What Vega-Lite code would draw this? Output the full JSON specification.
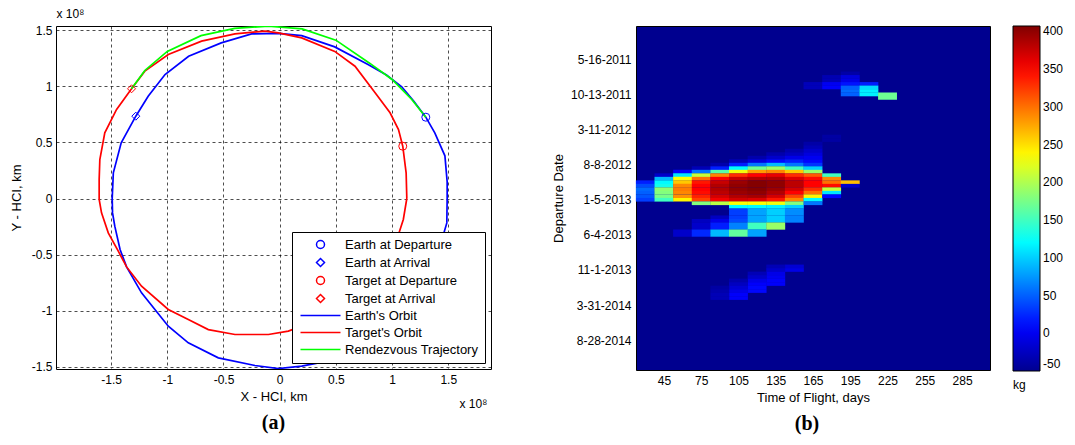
{
  "$schema": "https://vega.github.io/schema/vega-lite/v6.json",
  "background": "white",
  "padding": {"left": 9, "top": 6, "right": 5, "bottom": 5},
  "config": {
    "font": "Liberation Sans",
    "view": {"stroke": "black", "strokeWidth": 1},
    "axis": {
      "labelFont": "Liberation Sans", "labelFontSize": 12, "labelColor": "black",
      "titleFont": "Liberation Sans", "titleFontSize": 13, "titleFontWeight": "normal", "titleColor": "black",
      "domain": false, "ticks": false,
      "gridColor": "black", "gridOpacity": 1, "gridDash": [3, 3], "gridWidth": 0.7
    },
    "legend": {
      "labelFont": "Liberation Sans", "labelFontSize": 12, "labelColor": "black",
      "titleFont": "Liberation Sans", "titleFontSize": 12, "titleFontWeight": "normal", "titleColor": "black"
    },
    "title": {"font": "Liberation Serif", "fontSize": 20, "fontWeight": "bold", "color": "black"}
  },
  "datasets": {
    "orbits": [
      {"series": "Earth's Orbit", "i": 1, "x": 1.49, "y": 0.0},
      {"series": "Earth's Orbit", "i": 2, "x": 1.49, "y": 0.15},
      {"series": "Earth's Orbit", "i": 3, "x": 1.47, "y": 0.38},
      {"series": "Earth's Orbit", "i": 4, "x": 1.38, "y": 0.585},
      {"series": "Earth's Orbit", "i": 5, "x": 1.30, "y": 0.724},
      {"series": "Earth's Orbit", "i": 6, "x": 1.19, "y": 0.87},
      {"series": "Earth's Orbit", "i": 7, "x": 1.086, "y": 0.995},
      {"series": "Earth's Orbit", "i": 8, "x": 0.95, "y": 1.10},
      {"series": "Earth's Orbit", "i": 9, "x": 0.79, "y": 1.19},
      {"series": "Earth's Orbit", "i": 10, "x": 0.49, "y": 1.35},
      {"series": "Earth's Orbit", "i": 11, "x": 0.196, "y": 1.45},
      {"series": "Earth's Orbit", "i": 12, "x": -0.01, "y": 1.47},
      {"series": "Earth's Orbit", "i": 13, "x": -0.25, "y": 1.466},
      {"series": "Earth's Orbit", "i": 14, "x": -0.52, "y": 1.386},
      {"series": "Earth's Orbit", "i": 15, "x": -0.81, "y": 1.267},
      {"series": "Earth's Orbit", "i": 16, "x": -1.02, "y": 1.104},
      {"series": "Earth's Orbit", "i": 17, "x": -1.17, "y": 0.911},
      {"series": "Earth's Orbit", "i": 18, "x": -1.28, "y": 0.733},
      {"series": "Earth's Orbit", "i": 19, "x": -1.41, "y": 0.496},
      {"series": "Earth's Orbit", "i": 20, "x": -1.48, "y": 0.229},
      {"series": "Earth's Orbit", "i": 21, "x": -1.49, "y": 0.0},
      {"series": "Earth's Orbit", "i": 22, "x": -1.487, "y": -0.128},
      {"series": "Earth's Orbit", "i": 23, "x": -1.467, "y": -0.246},
      {"series": "Earth's Orbit", "i": 24, "x": -1.42, "y": -0.454},
      {"series": "Earth's Orbit", "i": 25, "x": -1.362, "y": -0.609},
      {"series": "Earth's Orbit", "i": 26, "x": -1.229, "y": -0.84},
      {"series": "Earth's Orbit", "i": 27, "x": -0.991, "y": -1.137},
      {"series": "Earth's Orbit", "i": 28, "x": -0.813, "y": -1.285},
      {"series": "Earth's Orbit", "i": 29, "x": -0.546, "y": -1.419},
      {"series": "Earth's Orbit", "i": 30, "x": -0.22, "y": -1.487},
      {"series": "Earth's Orbit", "i": 31, "x": -0.012, "y": -1.514},
      {"series": "Earth's Orbit", "i": 32, "x": 0.196, "y": -1.493},
      {"series": "Earth's Orbit", "i": 33, "x": 0.345, "y": -1.463},
      {"series": "Earth's Orbit", "i": 34, "x": 0.62, "y": -1.35},
      {"series": "Earth's Orbit", "i": 35, "x": 0.86, "y": -1.2},
      {"series": "Earth's Orbit", "i": 36, "x": 1.08, "y": -1.0},
      {"series": "Earth's Orbit", "i": 37, "x": 1.25, "y": -0.78},
      {"series": "Earth's Orbit", "i": 38, "x": 1.38, "y": -0.55},
      {"series": "Earth's Orbit", "i": 39, "x": 1.457, "y": -0.32},
      {"series": "Earth's Orbit", "i": 40, "x": 1.487, "y": -0.217},
      {"series": "Earth's Orbit", "i": 41, "x": 1.49, "y": 0.0},
      {"series": "Target's Orbit", "i": 1, "x": 1.131, "y": 0.0},
      {"series": "Target's Orbit", "i": 2, "x": 1.125, "y": 0.229},
      {"series": "Target's Orbit", "i": 3, "x": 1.095, "y": 0.466},
      {"series": "Target's Orbit", "i": 4, "x": 1.057, "y": 0.614},
      {"series": "Target's Orbit", "i": 5, "x": 0.982, "y": 0.763},
      {"series": "Target's Orbit", "i": 6, "x": 0.849, "y": 0.941},
      {"series": "Target's Orbit", "i": 7, "x": 0.67, "y": 1.178},
      {"series": "Target's Orbit", "i": 8, "x": 0.49, "y": 1.31},
      {"series": "Target's Orbit", "i": 9, "x": 0.196, "y": 1.43},
      {"series": "Target's Orbit", "i": 10, "x": -0.012, "y": 1.475},
      {"series": "Target's Orbit", "i": 11, "x": -0.131, "y": 1.49},
      {"series": "Target's Orbit", "i": 12, "x": -0.398, "y": 1.466},
      {"series": "Target's Orbit", "i": 13, "x": -0.695, "y": 1.401},
      {"series": "Target's Orbit", "i": 14, "x": -0.991, "y": 1.282},
      {"series": "Target's Orbit", "i": 15, "x": -1.2, "y": 1.134},
      {"series": "Target's Orbit", "i": 16, "x": -1.318, "y": 0.977},
      {"series": "Target's Orbit", "i": 17, "x": -1.451, "y": 0.793},
      {"series": "Target's Orbit", "i": 18, "x": -1.556, "y": 0.585},
      {"series": "Target's Orbit", "i": 19, "x": -1.6, "y": 0.347},
      {"series": "Target's Orbit", "i": 20, "x": -1.606, "y": 0.169},
      {"series": "Target's Orbit", "i": 21, "x": -1.606, "y": -0.009},
      {"series": "Target's Orbit", "i": 22, "x": -1.585, "y": -0.128},
      {"series": "Target's Orbit", "i": 23, "x": -1.525, "y": -0.306},
      {"series": "Target's Orbit", "i": 24, "x": -1.436, "y": -0.469},
      {"series": "Target's Orbit", "i": 25, "x": -1.362, "y": -0.609},
      {"series": "Target's Orbit", "i": 26, "x": -1.229, "y": -0.781},
      {"series": "Target's Orbit", "i": 27, "x": -0.991, "y": -0.988},
      {"series": "Target's Orbit", "i": 28, "x": -0.813, "y": -1.077},
      {"series": "Target's Orbit", "i": 29, "x": -0.635, "y": -1.167},
      {"series": "Target's Orbit", "i": 30, "x": -0.398, "y": -1.211},
      {"series": "Target's Orbit", "i": 31, "x": -0.1, "y": -1.211},
      {"series": "Target's Orbit", "i": 32, "x": 0.077, "y": -1.181},
      {"series": "Target's Orbit", "i": 33, "x": 0.35, "y": -1.08},
      {"series": "Target's Orbit", "i": 34, "x": 0.62, "y": -0.9},
      {"series": "Target's Orbit", "i": 35, "x": 0.85, "y": -0.68},
      {"series": "Target's Orbit", "i": 36, "x": 0.98, "y": -0.5},
      {"series": "Target's Orbit", "i": 37, "x": 1.057, "y": -0.32},
      {"series": "Target's Orbit", "i": 38, "x": 1.1, "y": -0.187},
      {"series": "Target's Orbit", "i": 39, "x": 1.131, "y": 0.0},
      {"series": "Rendezvous Trajectory", "i": 1, "x": 1.30, "y": 0.724},
      {"series": "Rendezvous Trajectory", "i": 2, "x": 1.175, "y": 0.882},
      {"series": "Rendezvous Trajectory", "i": 3, "x": 1.0, "y": 1.06},
      {"series": "Rendezvous Trajectory", "i": 4, "x": 0.8, "y": 1.205},
      {"series": "Rendezvous Trajectory", "i": 5, "x": 0.5, "y": 1.41},
      {"series": "Rendezvous Trajectory", "i": 6, "x": 0.2, "y": 1.51},
      {"series": "Rendezvous Trajectory", "i": 7, "x": -0.1, "y": 1.535},
      {"series": "Rendezvous Trajectory", "i": 8, "x": -0.4, "y": 1.515},
      {"series": "Rendezvous Trajectory", "i": 9, "x": -0.7, "y": 1.45},
      {"series": "Rendezvous Trajectory", "i": 10, "x": -1.0, "y": 1.31},
      {"series": "Rendezvous Trajectory", "i": 11, "x": -1.2, "y": 1.14},
      {"series": "Rendezvous Trajectory", "i": 12, "x": -1.318, "y": 0.977}
    ],
    "markers": [
      {"series": "Earth at Departure", "x": 1.30, "y": 0.724},
      {"series": "Earth at Arrival", "x": -1.28, "y": 0.733},
      {"series": "Target at Departure", "x": 1.095, "y": 0.466},
      {"series": "Target at Arrival", "x": -1.318, "y": 0.977}
    ],
    "cells": [
      {"tof": 165, "dep": "2011-08-29", "kg": -28},
      {"tof": 165, "dep": "2011-09-13", "kg": -28},
      {"tof": 180, "dep": "2011-07-30", "kg": -32},
      {"tof": 180, "dep": "2011-08-14", "kg": -30},
      {"tof": 180, "dep": "2011-08-29", "kg": 0},
      {"tof": 180, "dep": "2011-09-13", "kg": 5},
      {"tof": 195, "dep": "2011-07-15", "kg": -38},
      {"tof": 195, "dep": "2011-07-30", "kg": -10},
      {"tof": 195, "dep": "2011-08-14", "kg": -5},
      {"tof": 195, "dep": "2011-08-29", "kg": 15},
      {"tof": 195, "dep": "2011-09-13", "kg": 50},
      {"tof": 195, "dep": "2011-09-28", "kg": 55},
      {"tof": 195, "dep": "2011-10-13", "kg": 50},
      {"tof": 210, "dep": "2011-08-29", "kg": 20},
      {"tof": 210, "dep": "2011-09-13", "kg": 105},
      {"tof": 210, "dep": "2011-09-28", "kg": 115},
      {"tof": 210, "dep": "2011-10-13", "kg": 115},
      {"tof": 225, "dep": "2011-10-13", "kg": 170},
      {"tof": 225, "dep": "2011-10-28", "kg": 170},

      {"tof": 30, "dep": "2012-10-22", "kg": 20},
      {"tof": 30, "dep": "2012-11-06", "kg": 40},
      {"tof": 30, "dep": "2012-11-21", "kg": 55},
      {"tof": 30, "dep": "2012-12-06", "kg": 50},
      {"tof": 30, "dep": "2012-12-21", "kg": 45},
      {"tof": 30, "dep": "2013-01-05", "kg": 35},

      {"tof": 45, "dep": "2012-09-22", "kg": -20},
      {"tof": 45, "dep": "2012-10-07", "kg": 90},
      {"tof": 45, "dep": "2012-10-22", "kg": 120},
      {"tof": 45, "dep": "2012-11-06", "kg": 130},
      {"tof": 45, "dep": "2012-11-21", "kg": 185},
      {"tof": 45, "dep": "2012-12-06", "kg": 180},
      {"tof": 45, "dep": "2012-12-21", "kg": 175},
      {"tof": 45, "dep": "2013-01-05", "kg": 150},

      {"tof": 60, "dep": "2012-09-07", "kg": 5},
      {"tof": 60, "dep": "2012-09-22", "kg": 110},
      {"tof": 60, "dep": "2012-10-07", "kg": 235},
      {"tof": 60, "dep": "2012-10-22", "kg": 260},
      {"tof": 60, "dep": "2012-11-06", "kg": 290},
      {"tof": 60, "dep": "2012-11-21", "kg": 295},
      {"tof": 60, "dep": "2012-12-06", "kg": 290},
      {"tof": 60, "dep": "2012-12-21", "kg": 285},
      {"tof": 60, "dep": "2013-01-05", "kg": 240},
      {"tof": 60, "dep": "2013-05-20", "kg": -20},
      {"tof": 60, "dep": "2013-06-04", "kg": -20},

      {"tof": 75, "dep": "2012-08-23", "kg": -30},
      {"tof": 75, "dep": "2012-09-07", "kg": 60},
      {"tof": 75, "dep": "2012-09-22", "kg": 210},
      {"tof": 75, "dep": "2012-10-07", "kg": 300},
      {"tof": 75, "dep": "2012-10-22", "kg": 340},
      {"tof": 75, "dep": "2012-11-06", "kg": 350},
      {"tof": 75, "dep": "2012-11-21", "kg": 350},
      {"tof": 75, "dep": "2012-12-06", "kg": 345},
      {"tof": 75, "dep": "2012-12-21", "kg": 335},
      {"tof": 75, "dep": "2013-01-05", "kg": 320},
      {"tof": 75, "dep": "2013-01-20", "kg": 180},
      {"tof": 75, "dep": "2013-04-05", "kg": -25},
      {"tof": 75, "dep": "2013-04-20", "kg": -20},
      {"tof": 75, "dep": "2013-05-05", "kg": -20},
      {"tof": 75, "dep": "2013-05-20", "kg": 25},
      {"tof": 75, "dep": "2013-06-04", "kg": 25},

      {"tof": 90, "dep": "2012-08-08", "kg": -35},
      {"tof": 90, "dep": "2012-08-23", "kg": 20},
      {"tof": 90, "dep": "2012-09-07", "kg": 160},
      {"tof": 90, "dep": "2012-09-22", "kg": 290},
      {"tof": 90, "dep": "2012-10-07", "kg": 350},
      {"tof": 90, "dep": "2012-10-22", "kg": 375},
      {"tof": 90, "dep": "2012-11-06", "kg": 385},
      {"tof": 90, "dep": "2012-11-21", "kg": 385},
      {"tof": 90, "dep": "2012-12-06", "kg": 380},
      {"tof": 90, "dep": "2012-12-21", "kg": 370},
      {"tof": 90, "dep": "2013-01-05", "kg": 355},
      {"tof": 90, "dep": "2013-01-20", "kg": 205},
      {"tof": 90, "dep": "2013-03-21", "kg": -25},
      {"tof": 90, "dep": "2013-04-05", "kg": -5},
      {"tof": 90, "dep": "2013-04-20", "kg": 20},
      {"tof": 90, "dep": "2013-05-05", "kg": 20},
      {"tof": 90, "dep": "2013-05-20", "kg": 90},
      {"tof": 90, "dep": "2013-06-04", "kg": 90},

      {"tof": 105, "dep": "2012-07-24", "kg": -30},
      {"tof": 105, "dep": "2012-08-08", "kg": 20},
      {"tof": 105, "dep": "2012-08-23", "kg": 120},
      {"tof": 105, "dep": "2012-09-07", "kg": 230},
      {"tof": 105, "dep": "2012-09-22", "kg": 330},
      {"tof": 105, "dep": "2012-10-07", "kg": 375},
      {"tof": 105, "dep": "2012-10-22", "kg": 395},
      {"tof": 105, "dep": "2012-11-06", "kg": 400},
      {"tof": 105, "dep": "2012-11-21", "kg": 400},
      {"tof": 105, "dep": "2012-12-06", "kg": 395},
      {"tof": 105, "dep": "2012-12-21", "kg": 385},
      {"tof": 105, "dep": "2013-01-05", "kg": 370},
      {"tof": 105, "dep": "2013-01-20", "kg": 235},
      {"tof": 105, "dep": "2013-02-04", "kg": 120},
      {"tof": 105, "dep": "2013-02-19", "kg": 35},
      {"tof": 105, "dep": "2013-03-06", "kg": 35},
      {"tof": 105, "dep": "2013-03-21", "kg": 35},
      {"tof": 105, "dep": "2013-04-05", "kg": 40},
      {"tof": 105, "dep": "2013-04-20", "kg": 65},
      {"tof": 105, "dep": "2013-05-05", "kg": 65},
      {"tof": 105, "dep": "2013-05-20", "kg": 165},
      {"tof": 105, "dep": "2013-06-04", "kg": 165},

      {"tof": 120, "dep": "2012-07-09", "kg": -35},
      {"tof": 120, "dep": "2012-07-24", "kg": -10},
      {"tof": 120, "dep": "2012-08-08", "kg": 60},
      {"tof": 120, "dep": "2012-08-23", "kg": 170},
      {"tof": 120, "dep": "2012-09-07", "kg": 280},
      {"tof": 120, "dep": "2012-09-22", "kg": 350},
      {"tof": 120, "dep": "2012-10-07", "kg": 385},
      {"tof": 120, "dep": "2012-10-22", "kg": 405},
      {"tof": 120, "dep": "2012-11-06", "kg": 405},
      {"tof": 120, "dep": "2012-11-21", "kg": 405},
      {"tof": 120, "dep": "2012-12-06", "kg": 400},
      {"tof": 120, "dep": "2012-12-21", "kg": 390},
      {"tof": 120, "dep": "2013-01-05", "kg": 365},
      {"tof": 120, "dep": "2013-01-20", "kg": 235},
      {"tof": 120, "dep": "2013-02-04", "kg": 120},
      {"tof": 120, "dep": "2013-02-19", "kg": 80},
      {"tof": 120, "dep": "2013-03-06", "kg": 80},
      {"tof": 120, "dep": "2013-03-21", "kg": 80},
      {"tof": 120, "dep": "2013-04-05", "kg": 80},
      {"tof": 120, "dep": "2013-04-20", "kg": 150},
      {"tof": 120, "dep": "2013-05-05", "kg": 150},
      {"tof": 120, "dep": "2013-05-20", "kg": 80},
      {"tof": 120, "dep": "2013-06-04", "kg": 80},

      {"tof": 135, "dep": "2012-06-24", "kg": -35},
      {"tof": 135, "dep": "2012-07-09", "kg": -20},
      {"tof": 135, "dep": "2012-07-24", "kg": 10},
      {"tof": 135, "dep": "2012-08-08", "kg": 90},
      {"tof": 135, "dep": "2012-08-23", "kg": 190},
      {"tof": 135, "dep": "2012-09-07", "kg": 290},
      {"tof": 135, "dep": "2012-09-22", "kg": 360},
      {"tof": 135, "dep": "2012-10-07", "kg": 385},
      {"tof": 135, "dep": "2012-10-22", "kg": 400},
      {"tof": 135, "dep": "2012-11-06", "kg": 400},
      {"tof": 135, "dep": "2012-11-21", "kg": 395},
      {"tof": 135, "dep": "2012-12-06", "kg": 385},
      {"tof": 135, "dep": "2012-12-21", "kg": 370},
      {"tof": 135, "dep": "2013-01-05", "kg": 340},
      {"tof": 135, "dep": "2013-01-20", "kg": 230},
      {"tof": 135, "dep": "2013-02-04", "kg": 115},
      {"tof": 135, "dep": "2013-02-19", "kg": 100},
      {"tof": 135, "dep": "2013-03-06", "kg": 100},
      {"tof": 135, "dep": "2013-03-21", "kg": 100},
      {"tof": 135, "dep": "2013-04-05", "kg": 100},
      {"tof": 135, "dep": "2013-04-20", "kg": 190},
      {"tof": 135, "dep": "2013-05-05", "kg": 190},

      {"tof": 150, "dep": "2012-06-09", "kg": -35},
      {"tof": 150, "dep": "2012-06-24", "kg": -25},
      {"tof": 150, "dep": "2012-07-09", "kg": -5},
      {"tof": 150, "dep": "2012-07-24", "kg": 20},
      {"tof": 150, "dep": "2012-08-08", "kg": 60},
      {"tof": 150, "dep": "2012-08-23", "kg": 150},
      {"tof": 150, "dep": "2012-09-07", "kg": 260},
      {"tof": 150, "dep": "2012-09-22", "kg": 330},
      {"tof": 150, "dep": "2012-10-07", "kg": 365},
      {"tof": 150, "dep": "2012-10-22", "kg": 380},
      {"tof": 150, "dep": "2012-11-06", "kg": 380},
      {"tof": 150, "dep": "2012-11-21", "kg": 370},
      {"tof": 150, "dep": "2012-12-06", "kg": 350},
      {"tof": 150, "dep": "2012-12-21", "kg": 320},
      {"tof": 150, "dep": "2013-01-05", "kg": 290},
      {"tof": 150, "dep": "2013-01-20", "kg": 180},
      {"tof": 150, "dep": "2013-02-04", "kg": 100},
      {"tof": 150, "dep": "2013-02-19", "kg": 70},
      {"tof": 150, "dep": "2013-03-06", "kg": 70},
      {"tof": 150, "dep": "2013-03-21", "kg": 65},
      {"tof": 150, "dep": "2013-04-05", "kg": 65},

      {"tof": 165, "dep": "2012-05-10", "kg": -38},
      {"tof": 165, "dep": "2012-05-25", "kg": -30},
      {"tof": 165, "dep": "2012-06-09", "kg": -20},
      {"tof": 165, "dep": "2012-06-24", "kg": -10},
      {"tof": 165, "dep": "2012-07-09", "kg": 0},
      {"tof": 165, "dep": "2012-07-24", "kg": 10},
      {"tof": 165, "dep": "2012-08-08", "kg": 30},
      {"tof": 165, "dep": "2012-08-23", "kg": 100},
      {"tof": 165, "dep": "2012-09-07", "kg": 190},
      {"tof": 165, "dep": "2012-09-22", "kg": 310},
      {"tof": 165, "dep": "2012-10-07", "kg": 345},
      {"tof": 165, "dep": "2012-10-22", "kg": 350},
      {"tof": 165, "dep": "2012-11-06", "kg": 350},
      {"tof": 165, "dep": "2012-11-21", "kg": 330},
      {"tof": 165, "dep": "2012-12-06", "kg": 300},
      {"tof": 165, "dep": "2012-12-21", "kg": 240},
      {"tof": 165, "dep": "2013-01-05", "kg": 120},
      {"tof": 165, "dep": "2013-01-20", "kg": 60},

      {"tof": 180, "dep": "2012-04-10", "kg": -40},
      {"tof": 180, "dep": "2012-04-25", "kg": -40},
      {"tof": 180, "dep": "2012-09-22", "kg": 150},
      {"tof": 180, "dep": "2012-10-07", "kg": 290},
      {"tof": 180, "dep": "2012-10-22", "kg": 300},
      {"tof": 180, "dep": "2012-11-06", "kg": 345},
      {"tof": 180, "dep": "2012-11-21", "kg": 210},
      {"tof": 180, "dep": "2012-12-06", "kg": 110},
      {"tof": 180, "dep": "2012-12-21", "kg": 10},

      {"tof": 195, "dep": "2012-10-22", "kg": 265},
      {"tof": 195, "dep": "2012-11-06", "kg": -20},

      {"tof": 150, "dep": "2013-10-17", "kg": -15},
      {"tof": 150, "dep": "2013-11-01", "kg": -5},
      {"tof": 135, "dep": "2013-10-17", "kg": -30},
      {"tof": 135, "dep": "2013-11-01", "kg": -20},
      {"tof": 135, "dep": "2013-11-16", "kg": -5},
      {"tof": 135, "dep": "2013-12-01", "kg": 0},
      {"tof": 135, "dep": "2013-12-16", "kg": 5},
      {"tof": 135, "dep": "2013-12-31", "kg": 5},
      {"tof": 120, "dep": "2013-11-16", "kg": -30},
      {"tof": 120, "dep": "2013-12-01", "kg": -20},
      {"tof": 120, "dep": "2013-12-16", "kg": -5},
      {"tof": 120, "dep": "2013-12-31", "kg": 5},
      {"tof": 120, "dep": "2014-01-15", "kg": 10},
      {"tof": 120, "dep": "2014-01-30", "kg": 10},
      {"tof": 105, "dep": "2013-12-16", "kg": -35},
      {"tof": 105, "dep": "2013-12-31", "kg": -25},
      {"tof": 105, "dep": "2014-01-15", "kg": -15},
      {"tof": 105, "dep": "2014-01-30", "kg": -5},
      {"tof": 105, "dep": "2014-02-14", "kg": 5},
      {"tof": 105, "dep": "2014-03-01", "kg": 5},
      {"tof": 90, "dep": "2014-01-15", "kg": -40},
      {"tof": 90, "dep": "2014-01-30", "kg": -35},
      {"tof": 90, "dep": "2014-02-14", "kg": -30},
      {"tof": 90, "dep": "2014-03-01", "kg": -30}
    ]
  },
  "bounds": "flush",
  "spacing": 145,
  "hconcat": [
    {
      "width": 435,
      "height": 343,
      "title": {"text": "(a)", "orient": "bottom", "anchor": "middle", "frame": "group", "offset": 4},
      "layer": [
        {
          "data": {"name": "orbits"},
          "mark": {"type": "line", "strokeWidth": 1.7, "clip": true},
          "encoding": {
            "x": {
              "field": "x", "type": "quantitative",
              "scale": {"domain": [-1.99, 1.88], "nice": false, "zero": false},
              "axis": {"orient": "bottom", "values": [-1.5, -1, -0.5, 0, 0.5, 1, 1.5], "labelExpr": "toString(datum.value)", "title": "X - HCI, km", "grid": true, "labelPadding": 5, "titlePadding": 5}
            },
            "y": {
              "field": "y", "type": "quantitative",
              "scale": {"domain": [-1.518, 1.536], "nice": false, "zero": false},
              "axis": {"orient": "left", "values": [-1.5, -1, -0.5, 0, 0.5, 1, 1.5], "labelExpr": "toString(datum.value)", "title": "Y - HCI, km", "grid": true, "labelPadding": 4, "titlePadding": 8}
            },
            "color": {
              "field": "series", "type": "nominal",
              "scale": {
                "domain": ["Earth at Departure", "Earth at Arrival", "Target at Departure", "Target at Arrival", "Earth's Orbit", "Target's Orbit", "Rendezvous Trajectory"],
                "range": ["#0000FF", "#0000FF", "#FF0000", "#FF0000", "#0000FF", "#FF0000", "#00FF00"]
              },
              "legend": {
                "title": null, "orient": "bottom-right", "offset": 6,
                "fillColor": "white", "strokeColor": "black", "padding": 6,
                "labelFontSize": 13,
                "symbolSize": 64, "symbolStrokeWidth": 1.5, "symbolOffset": 16,
                "labelOffset": 18, "rowPadding": 3, "labelLimit": 300,
                "encode": {
                  "symbols": {
                    "update": {
                      "shape": {"signal": "indexof(['Earth at Arrival', 'Target at Arrival'], datum.value) >= 0 ? 'diamond' : indexof(['Earth at Departure', 'Target at Departure'], datum.value) >= 0 ? 'circle' : 'M-5,0H5'"},
                      "fill": {"value": "transparent"}
                    }
                  }
                }
              }
            },
            "order": {"field": "i", "type": "quantitative"}
          }
        },
        {
          "data": {"name": "markers"},
          "mark": {"type": "point", "filled": false, "strokeWidth": 1, "opacity": 1, "size": 64},
          "encoding": {
            "x": {
              "field": "x", "type": "quantitative",
              "axis": {"orient": "top", "grid": false, "labels": false, "ticks": false, "domain": false, "title": "x 10⁸", "titleFontSize": 12, "titleAnchor": "start", "titleAlign": "left", "titlePadding": 6}
            },
            "y": {
              "field": "y", "type": "quantitative",
              "axis": {"orient": "right", "grid": false, "labels": false, "ticks": false, "domain": false, "title": "x 10⁸", "titleFontSize": 12, "titleAngle": 0, "titleAlign": "left", "titleBaseline": "alphabetic", "titleX": -32, "titleY": 381}
            },
            "color": {"field": "series", "type": "nominal"},
            "shape": {
              "field": "series", "type": "nominal",
              "scale": {
                "domain": ["Earth at Departure", "Earth at Arrival", "Target at Departure", "Target at Arrival"],
                "range": ["circle", "diamond", "circle", "diamond"]
              },
              "legend": null
            }
          }
        }
      ]
    },
    {
      "width": 354,
      "height": 344,
      "view": {"fill": "#00008F", "stroke": "black"},
      "title": {"text": "(b)", "orient": "bottom", "anchor": "middle", "frame": "group", "offset": 10, "dx": -6},
      "data": {"name": "cells"},
      "mark": {"type": "tick", "orient": "vertical", "thickness": 18.9, "size": 3.7, "opacity": 1},
      "encoding": {
        "x": {
          "field": "tof", "type": "quantitative",
          "scale": {"domain": [22.5, 307.5], "nice": false, "zero": false},
          "axis": {"values": [45, 75, 105, 135, 165, 195, 225, 255, 285], "labelExpr": "toString(datum.value)", "title": "Time of Flight, days", "grid": false, "labelPadding": 5, "titlePadding": 5}
        },
        "y": {
          "field": "dep", "type": "temporal",
          "scale": {
            "type": "utc", "reverse": true, "nice": false,
            "domain": [{"year": 2010, "month": 12, "date": 24, "hours": 12, "utc": true}, {"year": 2015, "month": 1, "date": 2, "hours": 12, "utc": true}]
          },
          "axis": {
            "values": [
              {"year": 2011, "month": 5, "date": 16, "utc": true},
              {"year": 2011, "month": 10, "date": 13, "utc": true},
              {"year": 2012, "month": 3, "date": 11, "utc": true},
              {"year": 2012, "month": 8, "date": 8, "utc": true},
              {"year": 2013, "month": 1, "date": 5, "utc": true},
              {"year": 2013, "month": 6, "date": 4, "utc": true},
              {"year": 2013, "month": 11, "date": 1, "utc": true},
              {"year": 2014, "month": 3, "date": 31, "utc": true},
              {"year": 2014, "month": 8, "date": 28, "utc": true}
            ],
            "labelExpr": "utcFormat(datum.value, '%-m-%-d-%Y')",
            "title": "Departure Date", "grid": false, "labelPadding": 5, "titlePadding": 5
          }
        },
        "color": {
          "field": "kg", "type": "quantitative",
          "scale": {
            "domain": [-50, 407], "nice": false, "zero": false, "interpolate": "rgb",
            "range": ["#00008F", "#0000FF", "#0080FF", "#00FFFF", "#80FF80", "#FFFF00", "#FF8000", "#FF0000", "#800000"]
          },
          "legend": {
            "title": "kg", "titleOrient": "bottom", "titleAnchor": "start", "titlePadding": 8,
            "direction": "vertical", "gradientLength": 345, "gradientThickness": 27,
            "gradientStrokeColor": "black", "gradientStrokeWidth": 1,
            "values": [-50, 0, 50, 100, 150, 200, 250, 300, 350, 400],
            "labelExpr": "toString(datum.value)", "labelOffset": 3, "offset": 23
          }
        }
      }
    }
  ]
}
